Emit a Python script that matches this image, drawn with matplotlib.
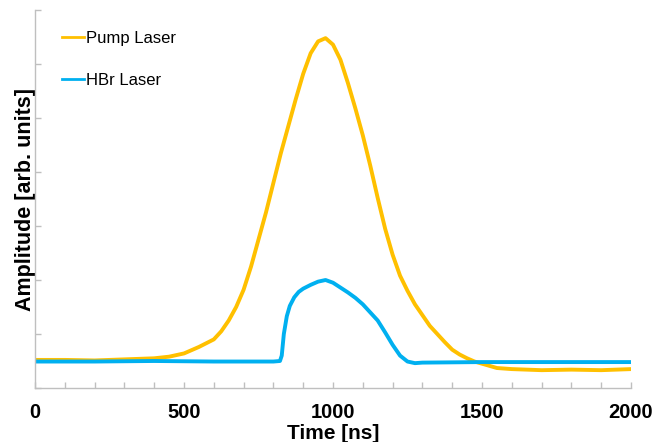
import numpy as np
import matplotlib.pyplot as plt

# traces (time in ns, amplitude in arb. units)
pump_t = [0, 100, 200, 300, 400, 450, 500, 525, 550, 575, 600, 625, 650, 675,
          700, 725, 750, 775, 800, 825, 850, 875, 900, 925, 950, 975, 1000,
          1025, 1050, 1075, 1100, 1125, 1150, 1175, 1200, 1225, 1250, 1275,
          1300, 1325, 1350, 1375, 1400, 1425, 1450, 1475, 1500, 1550, 1600,
          1700, 1800, 1900, 2000]
pump_v = [0.52, 0.52, 0.51, 0.53, 0.55, 0.58, 0.64, 0.7, 0.76, 0.83, 0.9, 1.05,
          1.25, 1.5, 1.82, 2.25, 2.75, 3.25, 3.8, 4.35, 4.85, 5.35, 5.82, 6.2,
          6.42, 6.48, 6.36, 6.08, 5.65, 5.18, 4.68, 4.12, 3.52, 2.95, 2.47,
          2.08, 1.8, 1.55, 1.35, 1.15, 1.0, 0.85, 0.71, 0.62, 0.55, 0.49, 0.45,
          0.37, 0.35, 0.33, 0.34, 0.33, 0.35]

hbr_t = [0, 200, 400, 600, 800, 822, 828, 835, 845, 855, 870, 885, 900, 925,
         950, 975, 1000, 1025, 1050, 1075, 1100, 1125, 1150, 1175, 1200, 1225,
         1250, 1275, 1300, 1500, 1700, 2000]
hbr_v = [0.49, 0.49, 0.5, 0.49, 0.49, 0.5, 0.6, 1.0, 1.33, 1.52, 1.68, 1.78,
         1.84, 1.91, 1.97, 2.0, 1.95, 1.86, 1.77, 1.67, 1.55, 1.4, 1.25, 1.03,
         0.8, 0.6, 0.49, 0.46, 0.47, 0.48, 0.48, 0.48]

plt.rcParams['font.family'] = ['Liberation Sans', 'DejaVu Sans']

fig = plt.figure(figsize=(6.67, 4.42), dpi=100)
ax = fig.add_axes([0.0525, 0.1222, 0.8935, 0.855])

ax.plot(pump_t, pump_v, color='#FFC000', lw=2.8, label='Pump Laser')
ax.plot(hbr_t, hbr_v, color='#00B0F0', lw=2.8, label='HBr Laser')

ax.set_xlim(0, 2000)
ax.set_ylim(0, 7)
ax.set_xticks(np.arange(0, 2001, 500))
ax.set_xticks(np.arange(0, 2001, 100), minor=True)
ax.set_yticks(np.arange(0, 8, 1))
ax.set_yticklabels([])
ax.tick_params(axis='both', which='both', direction='in', length=4,
               color='#BFBFBF', width=1)
ax.tick_params(axis='x', labelsize=14.5, pad=11)
for lbl in ax.get_xticklabels():
    lbl.set_fontweight('bold')

for s in ['top', 'right']:
    ax.spines[s].set_visible(False)
for s in ['left', 'bottom']:
    ax.spines[s].set_color('#BFBFBF')
    ax.spines[s].set_linewidth(1)

ax.set_xlabel('Time [ns]', fontsize=15, fontweight='bold', labelpad=1)
ax.set_ylabel('Amplitude [arb. units]', fontsize=15.5, fontweight='bold', labelpad=-4)

leg = ax.legend(loc='upper left', bbox_to_anchor=(0.02, 0.985), frameon=False,
                fontsize=12, handlelength=1.3, handletextpad=0.15,
                labelspacing=1.65)
for h in leg.get_lines():
    h.set_linewidth(2)

fig.savefig('out.png', dpi=100)
